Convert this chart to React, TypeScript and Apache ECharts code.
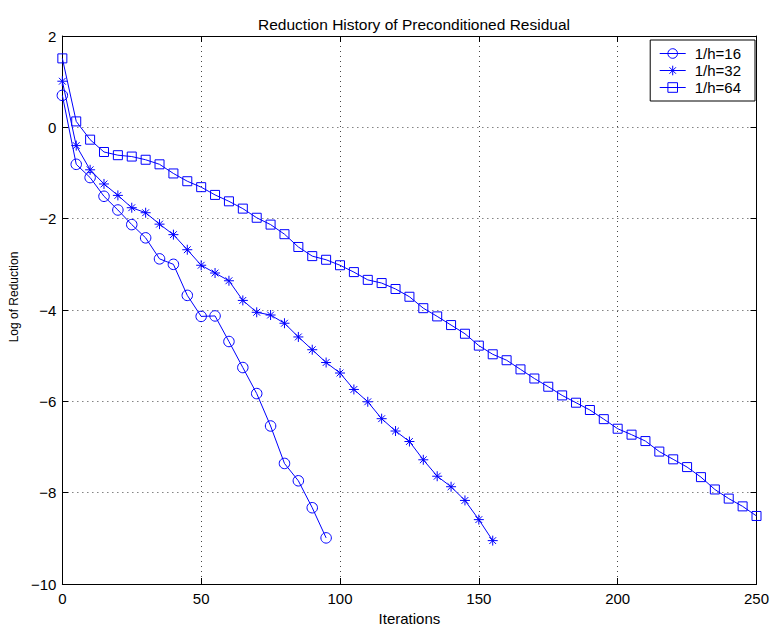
import React, { useEffect, useRef } from "react";
import * as echarts from "echarts";

const iterations = [
  0, 5, 10, 15, 20, 25, 30, 35, 40, 45, 50, 55, 60, 65, 70, 75, 80, 85, 90, 95,
  100, 105, 110, 115, 120, 125, 130, 135, 140, 145, 150, 155, 160, 165, 170, 175,
  180, 185, 190, 195, 200, 205, 210, 215, 220, 225, 230, 235, 240, 245, 250,
];

const h16 = [
  0.7, -0.81, -1.1, -1.51, -1.81, -2.13, -2.42, -2.88, -3.0, -3.68, -4.14, -4.13,
  -4.69, -5.26, -5.83, -6.54, -7.36, -7.74, -8.33, -8.99,
];

const h32 = [
  1.01, -0.4, -0.93, -1.24, -1.49, -1.76, -1.87, -2.12, -2.35, -2.68, -3.02, -3.19,
  -3.36, -3.79, -4.05, -4.11, -4.29, -4.59, -4.87, -5.15, -5.38, -5.74, -6.01, -6.38,
  -6.65, -6.88, -7.28, -7.64, -7.87, -8.17, -8.59, -9.05,
];

const h64 = [
  1.51, 0.13, -0.27, -0.54, -0.61, -0.64, -0.71, -0.81, -1.01, -1.18, -1.31, -1.48,
  -1.62, -1.78, -1.98, -2.13, -2.34, -2.62, -2.82, -2.9, -3.02, -3.17, -3.34, -3.41,
  -3.54, -3.71, -3.96, -4.14, -4.33, -4.52, -4.78, -4.97, -5.1, -5.3, -5.5, -5.68,
  -5.87, -6.03, -6.19, -6.39, -6.6, -6.73, -6.87, -7.1, -7.27, -7.44, -7.66, -7.93,
  -8.13, -8.3, -8.51,
];

const seriesNames = ["1/h=16", "1/h=32", "1/h=64"];
const xTicks = [0, 50, 100, 150, 200, 250];
const yTicks = [-10, -8, -6, -4, -2, 0, 2];

const BLUE = "#0000ff";
const FONT = "'Liberation Sans', Arial, Helvetica, sans-serif";
const ASTERISK = "path://M5,0L5,10M0,5L10,5M1.6,1.6L8.4,8.4M1.6,8.4L8.4,1.6";

const pairs = (vals: number[]) => vals.map((v, i) => [iterations[i], v]);

export default function App() {
  const ref = useRef<HTMLDivElement>(null);
  useEffect(() => {
    if (!ref.current) return;
    const chart = echarts.init(ref.current, undefined, { renderer: "svg" });
    const minusFmt = (v: number) => String(v).replace("-", "\u2212");
    const baseAxisLine = { show: true, onZero: false, lineStyle: { color: "#000", width: 1 } };
    const tick = { show: true, inside: true, length: 6, lineStyle: { color: "#000" } };
    const grid = { show: true, lineStyle: { color: "#444", type: [1, 4], width: 1 } };
    const mkSeries = (name: string, vals: number[], symbol: string, size: number) => ({
      name,
      type: "line",
      data: pairs(vals),
      symbol,
      symbolSize: size,
      showAllSymbol: true,
      lineStyle: { color: BLUE, width: 1 },
      itemStyle: { color: "transparent", borderColor: BLUE, borderWidth: 1 },
      emphasis: { disabled: true },
      xAxisIndex: 0,
      yAxisIndex: 0,
    });
    chart.setOption({
      animation: false,
      backgroundColor: "#fff",
      title: {
        text: "Reduction History of Preconditioned Residual",
        left: 409,
        top: 11,
        textAlign: "center",
        textStyle: { fontFamily: FONT, fontSize: 15.5, fontWeight: "normal", color: "#000" },
      },
      legend: {
        data: seriesNames,
        orient: "vertical",
        right: 18,
        top: 40,
        itemWidth: 26,
        itemHeight: 12,
        itemGap: 2,
        padding: [6, 14, 6, 9],
        borderColor: "#000",
        borderWidth: 1,
        backgroundColor: "#fff",
        lineStyle: { width: 1 },
        itemStyle: { borderWidth: 1 },
        textStyle: { fontFamily: FONT, fontSize: 15, color: "#000", padding: [0, 0, 0, 4] },
      },
      grid: { left: 61.5, right: 16.5, top: 36, bottom: 47, containLabel: false },
      xAxis: [
        {
          type: "value",
          min: xTicks[0],
          max: xTicks[xTicks.length - 1],
          interval: 50,
          name: "Iterations",
          nameLocation: "middle",
          nameGap: 25,
          nameTextStyle: { fontFamily: FONT, fontSize: 15, color: "#000" },
          axisLine: baseAxisLine,
          axisTick: tick,
          axisLabel: { fontFamily: FONT, fontSize: 15, color: "#000", margin: 7 },
          splitLine: grid,
        },
        {
          type: "value",
          position: "top",
          min: xTicks[0],
          max: xTicks[xTicks.length - 1],
          interval: 50,
          axisLine: baseAxisLine,
          axisTick: tick,
          axisLabel: { show: false },
          splitLine: { show: false },
        },
      ],
      yAxis: [
        {
          type: "value",
          min: yTicks[0],
          max: yTicks[yTicks.length - 1],
          interval: 2,
          name: "Log of Reduction",
          nameLocation: "middle",
          nameGap: 37,
          nameTextStyle: { fontFamily: FONT, fontSize: 12, color: "#000", padding: [0, 0, 0, 26] },
          axisLine: baseAxisLine,
          axisTick: tick,
          axisLabel: { fontFamily: FONT, fontSize: 15, color: "#000", margin: 6, formatter: minusFmt },
          splitLine: grid,
        },
        {
          type: "value",
          position: "right",
          min: yTicks[0],
          max: yTicks[yTicks.length - 1],
          interval: 2,
          axisLine: baseAxisLine,
          axisTick: tick,
          axisLabel: { show: false },
          splitLine: { show: false },
        },
      ],
      series: [
        mkSeries(seriesNames[0], h16, "circle", 10.5),
        mkSeries(seriesNames[1], h32, ASTERISK, 10),
        mkSeries(seriesNames[2], h64, "rect", 9),
      ],
    });
    return () => chart.dispose();
  }, []);
  return (
    <div
      ref={ref}
      style={{ position: "fixed", left: 0, top: 0, width: 773, height: 631, background: "#fff" }}
    />
  );
}
